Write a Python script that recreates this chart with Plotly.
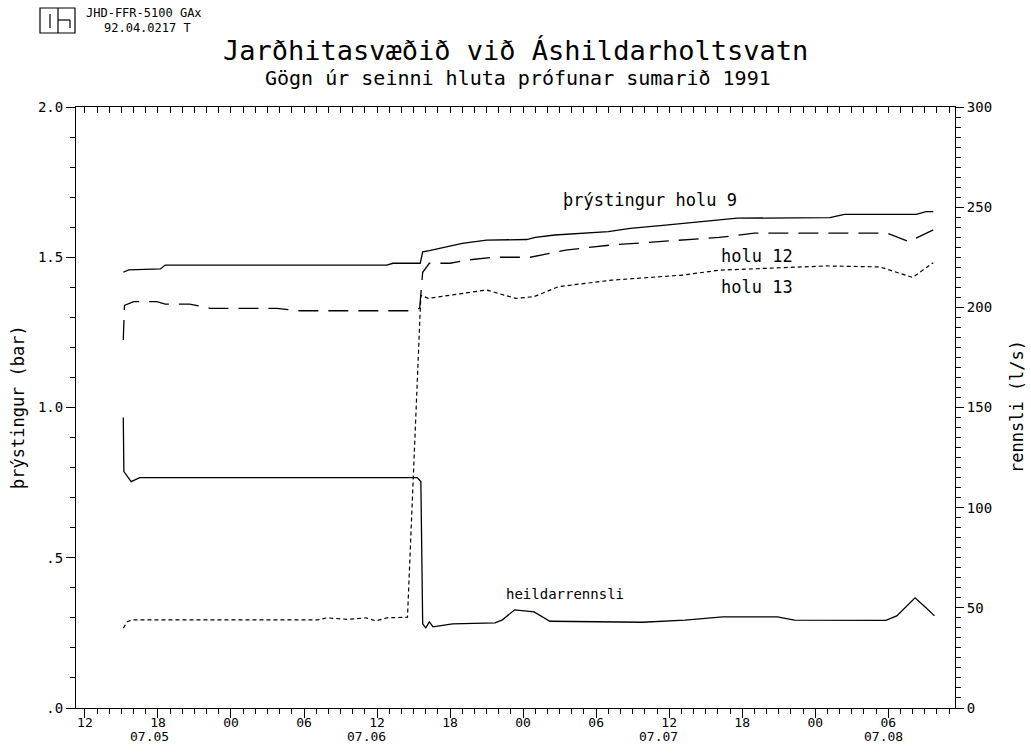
import plotly.graph_objects as go

# ---------------- data ----------------
holu9_time = ["1991-07-05 15:09", "1991-07-05 15:36", "1991-07-05 18:12", "1991-07-05 18:36",
              "1991-07-06 12:48", "1991-07-06 13:18", "1991-07-06 15:33", "1991-07-06 15:45",
              "1991-07-06 16:18", "1991-07-06 17:12", "1991-07-06 19:00", "1991-07-06 21:00",
              "1991-07-07 00:18", "1991-07-07 01:00", "1991-07-07 02:36", "1991-07-07 07:00",
              "1991-07-07 08:48", "1991-07-07 11:42", "1991-07-07 14:36", "1991-07-07 17:36",
              "1991-07-08 01:12", "1991-07-08 02:24", "1991-07-08 08:18", "1991-07-08 09:06",
              "1991-07-08 09:42"]
holu9_bar = [1.450, 1.458, 1.461, 1.474, 1.474, 1.480, 1.480, 1.518, 1.522, 1.530, 1.546, 1.557,
             1.559, 1.566, 1.574, 1.585, 1.596, 1.607, 1.618, 1.630, 1.632, 1.643, 1.643, 1.652,
             1.652]

holu12_time = ["1991-07-05 15:09", "1991-07-05 15:15", "1991-07-05 16:00", "1991-07-05 17:54",
               "1991-07-05 18:36", "1991-07-05 20:36", "1991-07-05 22:18", "1991-07-06 03:45",
               "1991-07-06 05:42", "1991-07-06 14:42", "1991-07-06 15:30", "1991-07-06 15:45",
               "1991-07-06 16:18", "1991-07-06 18:00", "1991-07-06 19:30", "1991-07-06 21:30",
               "1991-07-07 00:36", "1991-07-07 03:30", "1991-07-07 07:18", "1991-07-07 11:06",
               "1991-07-07 16:06", "1991-07-07 19:00", "1991-07-08 05:54", "1991-07-08 07:42",
               "1991-07-08 09:42"]
holu12_bar = [1.225, 1.340, 1.352, 1.352, 1.344, 1.344, 1.330, 1.330, 1.322, 1.322, 1.330, 1.450,
              1.480, 1.480, 1.491, 1.500, 1.500, 1.524, 1.541, 1.552, 1.566, 1.580, 1.580, 1.552,
              1.591]

holu13_time = ["1991-07-05 15:09", "1991-07-05 15:30", "1991-07-05 16:00", "1991-07-06 07:06",
               "1991-07-06 07:54", "1991-07-06 09:36", "1991-07-06 11:06", "1991-07-06 11:54",
               "1991-07-06 12:48", "1991-07-06 14:30", "1991-07-06 15:36", "1991-07-06 16:12",
               "1991-07-06 18:06", "1991-07-06 21:00", "1991-07-06 23:24", "1991-07-07 00:54",
               "1991-07-07 02:54", "1991-07-07 07:18", "1991-07-07 13:12", "1991-07-07 16:06",
               "1991-07-08 00:54", "1991-07-08 05:18", "1991-07-08 08:00", "1991-07-08 09:42"]
holu13_bar = [0.266, 0.288, 0.293, 0.293, 0.300, 0.295, 0.300, 0.290, 0.300, 0.302, 1.374, 1.363,
              1.374, 1.391, 1.363, 1.369, 1.402, 1.424, 1.441, 1.457, 1.471, 1.468, 1.433, 1.482]

flow_time = ["1991-07-05 15:09", "1991-07-05 15:12", "1991-07-05 15:48", "1991-07-05 16:30",
             "1991-07-06 15:18", "1991-07-06 15:36", "1991-07-06 15:45", "1991-07-06 16:00",
             "1991-07-06 16:18", "1991-07-06 16:36", "1991-07-06 18:12", "1991-07-06 21:42",
             "1991-07-06 22:18", "1991-07-06 23:18", "1991-07-07 00:54", "1991-07-07 02:12",
             "1991-07-07 09:48", "1991-07-07 13:18", "1991-07-07 16:24", "1991-07-07 20:54",
             "1991-07-07 22:18", "1991-07-08 05:48", "1991-07-08 06:42", "1991-07-08 08:12",
             "1991-07-08 09:06", "1991-07-08 09:48"]
flow_ls = [145, 118, 113, 115, 115, 113, 42, 40, 43, 40.5, 42, 42.5, 44, 49, 48, 43.3, 42.8,
           43.9, 45.5, 45.5, 43.9, 43.7, 46, 55, 50, 46]

x_tick_vals = ["1991-07-05 12:00", "1991-07-05 18:00", "1991-07-06 00:00", "1991-07-06 06:00",
               "1991-07-06 12:00", "1991-07-06 18:00", "1991-07-07 00:00", "1991-07-07 06:00",
               "1991-07-07 12:00", "1991-07-07 18:00", "1991-07-08 00:00", "1991-07-08 06:00"]
x_tick_text = ["12", "18", "00", "06", "12", "18", "00", "06", "12", "18", "00", "06"]
day_labels = ["07.05", "07.06", "07.07", "07.08"]
day_label_time = ["1991-07-05 17:20", "1991-07-06 11:10", "1991-07-07 11:05", "1991-07-08 05:35"]
y_left_vals = [0, 0.5, 1.0, 1.5, 2.0]
y_left_text = [".0", ".5", "1.0", "1.5", "2.0"]
y_right_vals = [0, 50, 100, 150, 200, 250, 300]

series_labels = ["þrýstingur holu 9", "holu 12", "holu 13"]
series_label_time = ["1991-07-07 10:25", "1991-07-07 19:12", "1991-07-07 19:12"]
series_label_bar = [1.69, 1.505, 1.40]
flow_label = "heildarrennsli"
flow_label_time = "1991-07-07 03:25"
flow_label_ls = 57

# ---------------- layout geometry ----------------
W, H = 1031, 755
ML, MR, MT, MB = 76, 76, 107, 47
PW, PH = W - ML - MR, H - MT - MB
FONT = "DejaVu Sans Mono"


def fx(px):
    return (px - ML) / PW


def fy(py):
    return (H - MB - py) / PH


fig = go.Figure()
fig.add_trace(go.Scatter(x=holu9_time, y=holu9_bar, mode="lines", name="holu 9",
                         line=dict(color="black", width=1.3)))
fig.add_trace(go.Scatter(x=holu12_time, y=holu12_bar, mode="lines", name="holu 12",
                         line=dict(color="black", width=1.3, dash="20px,10px")))
fig.add_trace(go.Scatter(x=holu13_time, y=holu13_bar, mode="lines", name="holu 13",
                         line=dict(color="black", width=1.2, dash="4px,3px")))
fig.add_trace(go.Scatter(x=flow_time, y=flow_ls, mode="lines", name="heildarrennsli",
                         xaxis="x2", yaxis="y2", line=dict(color="black", width=1.3)))

tickfont = dict(family=FONT, size=14, color="black")
xr = ["1991-07-05 11:16", "1991-07-08 11:29"]

fig.update_layout(
    width=W, height=H, margin=dict(l=ML, r=MR, t=MT, b=MB),
    paper_bgcolor="white", plot_bgcolor="white", showlegend=False,
    font=dict(family=FONT, color="black"),
    xaxis=dict(type="date", range=xr, tickmode="array", tickvals=x_tick_vals, ticktext=x_tick_text,
               ticks="outside", ticklen=9, tickwidth=1, tickcolor="black", showline=True,
               linecolor="black", linewidth=1, showgrid=False, zeroline=False,
               tickfont=dict(family=FONT, size=13, color="black"), ticklabelstandoff=-7,
               minor=dict(ticks="outside", ticklen=5, tickwidth=1, tickcolor="black",
                          dtick=3600000, tick0="1991-07-05 00:00", showgrid=False)),
    xaxis2=dict(type="date", overlaying="x", matches="x", side="top", anchor="y", range=xr,
                showticklabels=False, ticks="inside", ticklen=6, tickwidth=1, tickcolor="black",
                tickmode="linear", dtick=3600000, tick0="1991-07-05 00:00",
                showline=True, linecolor="black", linewidth=1, showgrid=False, zeroline=False),
    yaxis=dict(range=[0, 2], tickmode="array", tickvals=y_left_vals, ticktext=y_left_text,
               ticks="outside", ticklen=9, tickwidth=1, tickcolor="black", showline=True,
               linecolor="black", linewidth=1, showgrid=False, zeroline=False, tickfont=tickfont,
               minor=dict(ticks="outside", ticklen=5, tickwidth=1, tickcolor="black", dtick=0.1,
                          showgrid=False)),
    yaxis2=dict(range=[0, 300], overlaying="y", side="right", anchor="x2", tickmode="array",
                tickvals=y_right_vals, ticks="outside", ticklen=8, tickwidth=1,
                tickcolor="black", showline=True, linecolor="black", linewidth=1,
                showgrid=False, zeroline=False, tickfont=tickfont,
                minor=dict(ticks="outside", ticklen=5, tickwidth=1, tickcolor="black", dtick=5,
                           showgrid=False)),
)


def paper_text(text, px, py, size, **kw):
    d = dict(text=text, xref="paper", yref="paper", x=fx(px), y=fy(py), showarrow=False,
             xanchor="center", yanchor="middle", font=dict(family=FONT, size=size, color="black"))
    d.update(kw)
    return d


ann = []
ann.append(paper_text("Jarðhitasvæðið við Áshildarholtsvatn", 515, 50, 27))
ann.append(paper_text("Gögn úr seinni hluta prófunar sumarið 1991", 518, 78, 20))
ann.append(paper_text("JHD-FFR-5100 GAx", 84, 13, 12, xanchor="left"))
ann.append(paper_text("92.04.0217 T", 102, 28, 12, xanchor="left"))
ann.append(paper_text("þrýstingur (bar)", 18, 407, 17, textangle=-90))
ann.append(paper_text("rennsli (l/s)", 1017, 407, 17, textangle=-90))
for t, lab in zip(day_label_time, day_labels):
    ann.append(dict(text=lab, xref="x", yref="paper", x=t, y=fy(736), showarrow=False,
                    xanchor="center", yanchor="middle",
                    font=dict(family=FONT, size=13, color="black")))
for t, v, lab in zip(series_label_time, series_label_bar, series_labels):
    ann.append(dict(text=lab, xref="x", yref="y", x=t, y=v, showarrow=False,
                    xanchor="center", yanchor="middle",
                    font=dict(family=FONT, size=17, color="black")))
ann.append(dict(text=flow_label, xref="x", yref="y2", x=flow_label_time, y=flow_label_ls,
                showarrow=False, xanchor="center", yanchor="middle",
                font=dict(family=FONT, size=14, color="black")))
fig.update_layout(annotations=ann)


def box(x0, y0, x1, y1):
    return dict(type="rect", xref="paper", yref="paper", x0=fx(x0), x1=fx(x1), y0=fy(y0),
                y1=fy(y1), line=dict(color="black", width=1.2))


def seg(x0, y0, x1, y1):
    return dict(type="line", xref="paper", yref="paper", x0=fx(x0), x1=fx(x1), y0=fy(y0),
                y1=fy(y1), line=dict(color="black", width=1.2))


fig.update_layout(shapes=[
    box(40, 8, 75, 33),
    seg(50, 14, 50, 28),
    seg(58, 8, 58, 33),
    seg(58, 20, 70, 20),
    seg(70, 20, 70, 28),
])

fig.write_html("out.html")
